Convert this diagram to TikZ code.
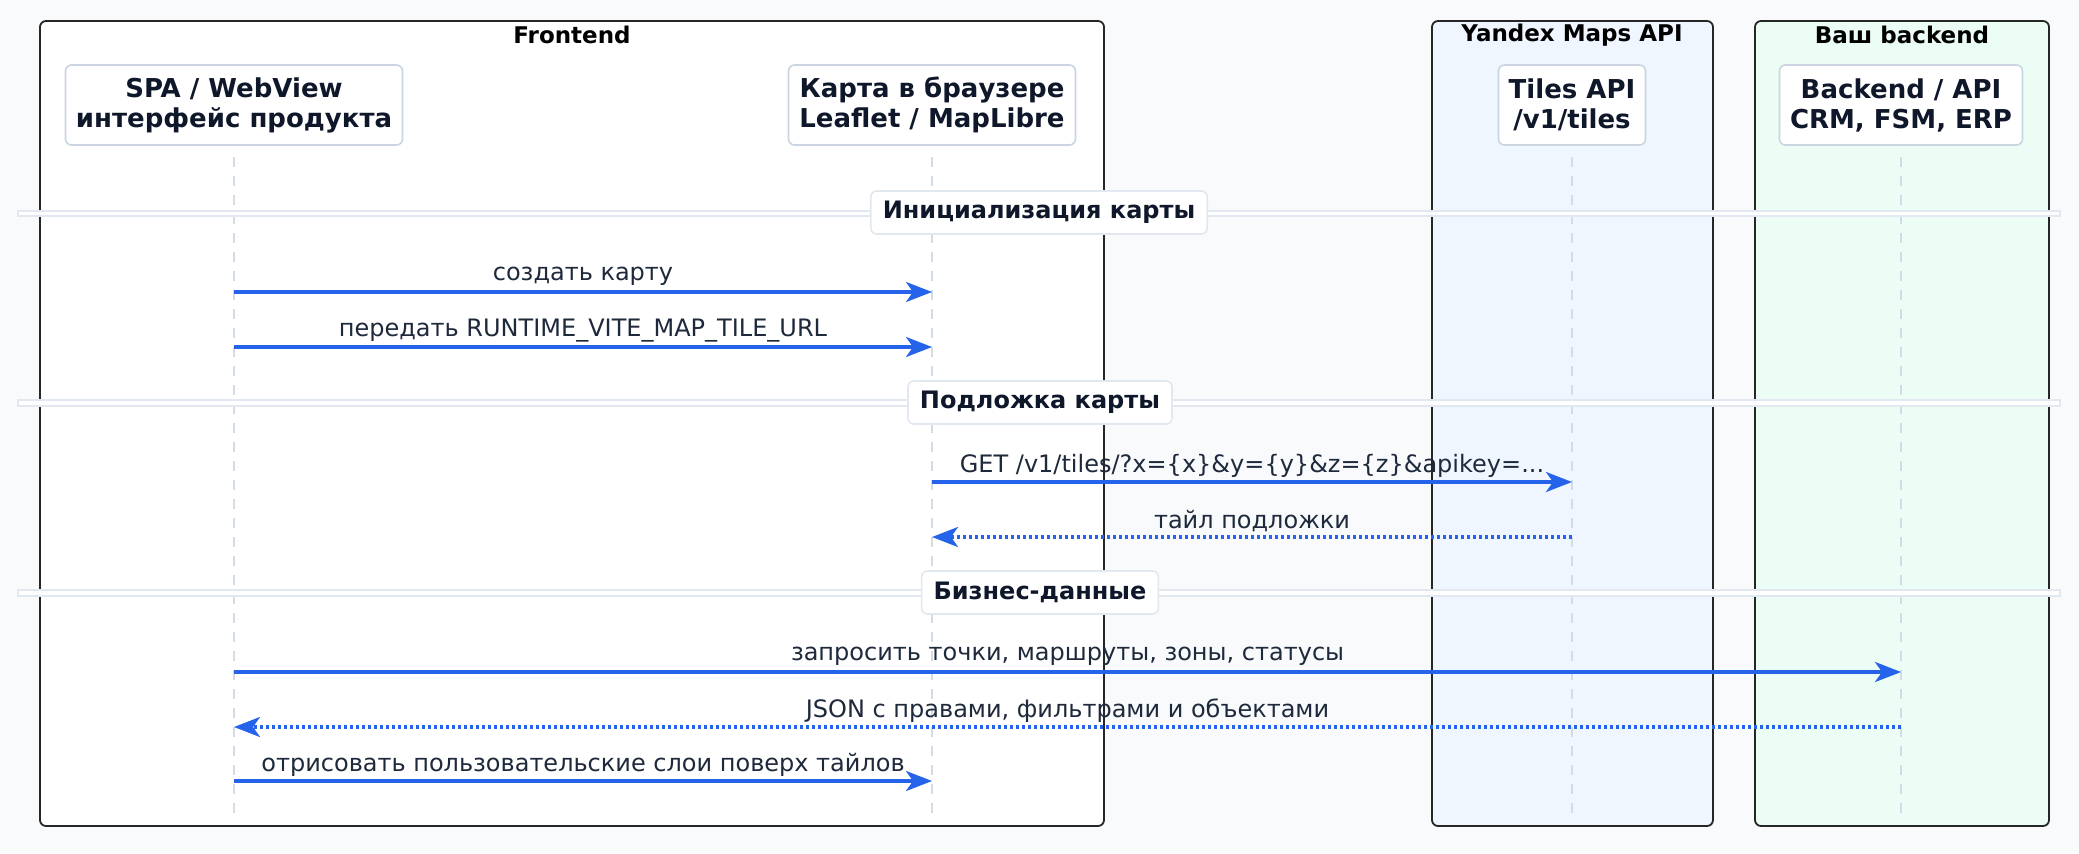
\documentclass[tikz,border=0pt]{standalone}
\usepackage{fontspec}
\setmainfont{DejaVu Sans}
\usetikzlibrary{arrows.meta,positioning}
\definecolor{pagebg}{HTML}{F8FAFC}
\definecolor{yandexbg}{HTML}{EFF6FF}
\definecolor{backendbg}{HTML}{ECFDF5}
\definecolor{msgblue}{HTML}{2563EB}
\definecolor{inkdark}{HTML}{0F172A}
\definecolor{msgtext}{HTML}{1E293B}
\definecolor{boxgray}{HTML}{CBD5E1}
\definecolor{rulegray}{HTML}{E2E8F0}

\begin{document}
\begin{tikzpicture}[
  x=0.5pt, y=-0.5pt,
  font=\fontsize{12}{14}\selectfont,
  group/.style={draw=black!85, line width=0.9pt, rounded corners=3pt},
  grouptitle/.style={font=\fontsize{11.5}{14}\selectfont\bfseries, text=black},
  participant/.style={draw=boxgray, line width=0.8pt, fill=white, rounded corners=3pt, align=center, inner xsep=4pt, minimum height=40pt, text=inkdark, font=\fontsize{13}{15}\selectfont\bfseries},
  lifeline/.style={draw=boxgray!85, line width=0.75pt, dash pattern=on 5pt off 4.5pt},
  divider/.style={draw=rulegray, line width=0.6pt, fill=white},
  section/.style={draw=rulegray, line width=0.8pt, fill=white, rounded corners=3pt, inner xsep=6pt, minimum height=21.5pt, text=inkdark, font=\fontsize{12}{14}\selectfont\bfseries},
  msg/.style={draw=msgblue, line width=1.6pt, -{Stealth[length=13pt, width=10pt, inset=3.5pt]}},
  reply/.style={msg, line width=1.6pt, dash pattern=on 1.5pt off 1.5pt},
  msglabel/.style={text=msgtext, yshift=8pt}
]
\useasboundingbox (0,0) rectangle (2079,853);
\fill[pagebg] (0,0) rectangle (2079,853);

% groups
\draw[group, fill=white] (40,21) rectangle (1104,826);
\draw[group, fill=yandexbg] (1432,21) rectangle (1713,826);
\draw[group, fill=backendbg] (1755,21) rectangle (2049,826);
\node[grouptitle] (frontendtitle) at (572,35) {Frontend};
\node[grouptitle] (yandextitle) at (1572,35) {Yandex Maps API};
\node[grouptitle] (backendtitle) at (1902,35) {Ваш backend};

% participants
\node[participant, minimum width=168.5pt] (spa) at (234,105) {SPA / WebView\\интерфейс продукта};
\node[participant, minimum width=143.5pt] (map) at (932,105) {Карта в браузере\\Leaflet / MapLibre};
\node[participant, minimum width=73.5pt] (tiles) at (1572,105) {Tiles API\\/v1/tiles};
\node[participant, minimum width=121.5pt] (backend) at (1901,105) {Backend / API\\CRM, FSM, ERP};

\draw[lifeline] (spa |- 0,157) -- (spa |- 0,815);
\draw[lifeline] (map |- 0,157) -- (map |- 0,815);
\draw[lifeline] (tiles |- 0,157) -- (tiles |- 0,815);
\draw[lifeline] (backend |- 0,157) -- (backend |- 0,815);

% sections
\draw[divider] (18,211) rectangle (2060,216);
\draw[divider] (18,400) rectangle (2060,406);
\draw[divider] (18,590) rectangle (2060,596);
\node[section] (init) at (1039,212.5) {Инициализация карты};
\node[section] (basemap) at (1040,402.5) {Подложка карты};
\node[section] (business) at (1040,592.5) {Бизнес-данные};

% messages
\draw[msg] (spa |- 0,292) -- (map |- 0,292) node[msglabel, midway] (lcreate) {создать карту};
\draw[msg] (spa |- 0,347) -- (map |- 0,347) node[msglabel, midway] (lpass) {передать RUNTIME\_VITE\_MAP\_TILE\_URL};
\draw[msg] (map |- 0,482) -- (tiles |- 0,482) node[msglabel, midway] (lget) {GET /v1/tiles/?x=\{x\}\&y=\{y\}\&z=\{z\}\&apikey=...};
\draw[reply] (tiles |- 0,537) -- (map |- 0,537) node[msglabel, midway] (ltile) {тайл подложки};
\draw[msg] (spa |- 0,672) -- (backend |- 0,672) node[msglabel, midway] (lquery) {запросить точки, маршруты, зоны, статусы};
\draw[reply] (backend |- 0,727) -- (spa |- 0,727) node[msglabel, midway] (ljson) {JSON с правами, фильтрами и объектами};
\draw[msg] (spa |- 0,781) -- (map |- 0,781) node[msglabel, midway] (ldraw) {отрисовать пользовательские слои поверх тайлов};
\end{tikzpicture}
\end{document}
